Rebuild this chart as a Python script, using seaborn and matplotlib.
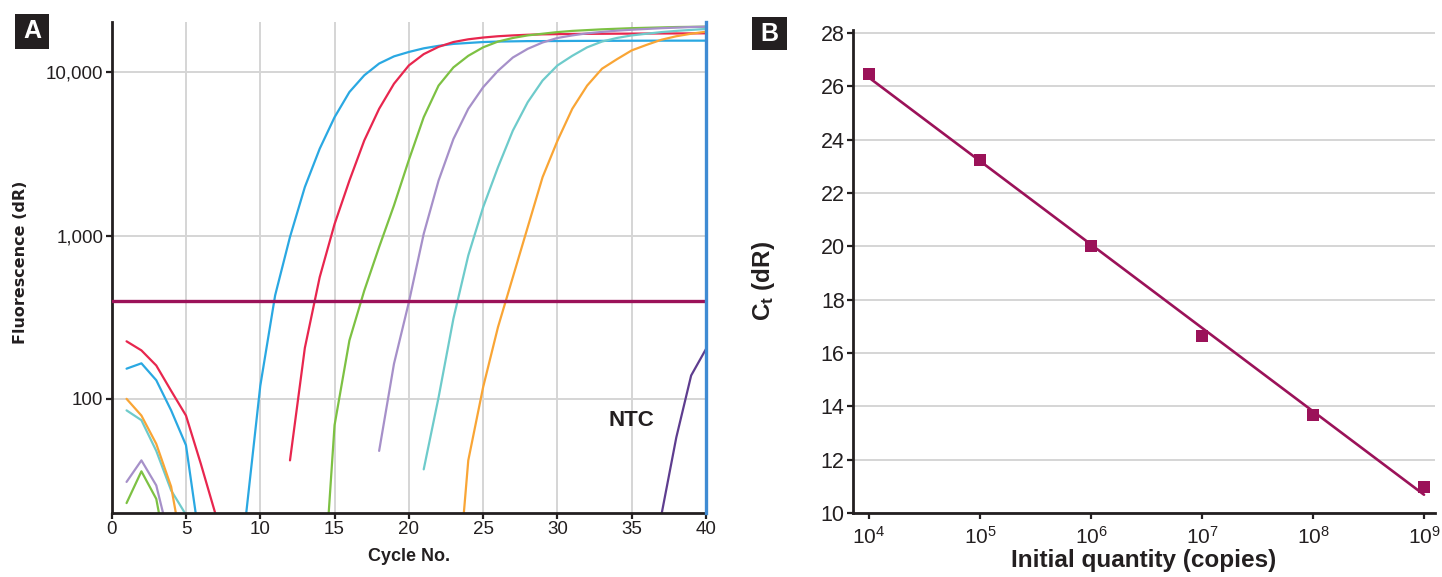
import numpy as np
import pandas as pd
import matplotlib
matplotlib.use("Agg")
import matplotlib.pyplot as plt
import seaborn as sns
from matplotlib.patches import Rectangle
from matplotlib.ticker import FixedLocator, NullLocator, FixedFormatter

nan = np.nan

# ---------------- Panel A data: amplification curves ----------------
cycles = list(range(1, 41))
blue = [153, 165, 130, 85, 52, 12, 5, 6, 18, 120,
        430, 980, 1980, 3400, 5300, 7560, 9570, 11300, 12500, 13300,
        14000, 14500, 14900, 15100, 15300, 15400, 15450, 15500, 15500, 15520,
        15540, 15550, 15560, 15570, 15580, 15590, 15600, 15600, 15600, 15600]
red = [225, 198, 160, 112, 79, 40, 19.5, nan, nan, nan,
       nan, 42, 205, 556, 1175, 2170, 3820, 5970, 8500, 11000,
       12900, 14300, 15300, 15900, 16300, 16600, 16800, 16950, 17050, 17100,
       17150, 17170, 17190, 17210, 17230, 17250, 17260, 17270, 17280, 17300]
green = [23, 36, 24.4, 8, nan, nan, nan, nan, nan, nan,
         nan, nan, nan, 3, 69, 228, 460, 850, 1530, 2900,
         5300, 8280, 10700, 12600, 14200, 15400, 16200, 16800, 17200, 17600,
         17900, 18100, 18300, 18450, 18600, 18700, 18800, 18900, 18950, 19000]
purple = [31, 42, 29.5, 12.6, nan, nan, nan, nan, nan, nan,
          nan, nan, nan, nan, nan, nan, nan, 48, 164, 390,
          1024, 2170, 3900, 5970, 8090, 10200, 12300, 13900, 15200, 16200,
          16800, 17300, 17650, 17950, 18200, 18400, 18600, 18750, 18900, 19000]
teal = [85, 74, 48, 27.5, 19.5, nan, nan, nan, nan, nan,
        nan, nan, nan, nan, nan, nan, nan, nan, nan, nan,
        37, 102, 310, 755, 1490, 2620, 4390, 6550, 8890, 11000,
        12600, 14200, 15400, 16200, 16800, 17200, 17600, 17900, 18150, 18400]
orange = [100, 79, 53, 29, 9, nan, nan, nan, nan, nan,
          nan, nan, nan, nan, nan, nan, nan, nan, nan, nan,
          nan, nan, 3.5, 42, 118, 275, 556, 1125, 2275, 3800,
          5970, 8280, 10500, 12000, 13600, 14700, 15800, 16600, 17200, 17700]
ntc_cycles = [37, 38, 39, 40]
ntc = [19.5, 58, 139, 202]
threshold = 400

a_xticks = [0, 5, 10, 15, 20, 25, 30, 35, 40]
a_yticks = [100, 1000, 10000]
a_yticklabels = ["100", "1,000", "10,000"]

# ---------------- Panel B data: standard curve ----------------
quantity = [1e4, 1e5, 1e6, 1e7, 1e8, 1e9]
ct = [26.47, 23.23, 20.02, 16.65, 13.68, 10.98]
b_yticks = [10, 12, 14, 16, 18, 20, 22, 24, 26, 28]

# ---------------- styling ----------------
sns.set_style("white")
plt.rcParams["font.family"] = ["Liberation Sans", "DejaVu Sans"]
plt.rcParams["mathtext.fontset"] = "custom"
plt.rcParams["mathtext.rm"] = "Liberation Sans"
plt.rcParams["mathtext.bf"] = "Liberation Sans:bold"
plt.rcParams["mathtext.it"] = "Liberation Sans:italic"

INK = "#231F20"
GRID = "#D5D5D5"
MAG = "#9B1259"
palette = {
    "blue": "#2AA8E2",
    "red": "#E8264E",
    "green": "#7DC143",
    "purple": "#A690C9",
    "teal": "#6ECBCB",
    "orange": "#F9A535",
    "ntc": "#5E3D8F",
}

# build long table, splitting each curve into continuous segments
rows = []
series = {"blue": (cycles, blue), "red": (cycles, red), "green": (cycles, green),
          "purple": (cycles, purple), "teal": (cycles, teal),
          "orange": (cycles, orange), "ntc": (ntc_cycles, ntc)}
for name, (cx, vals) in series.items():
    seg = 0
    prev_nan = True
    for c, v in zip(cx, vals):
        if np.isnan(v):
            prev_nan = True
            continue
        if prev_nan:
            seg += 1
            prev_nan = False
        rows.append({"cycle": c, "value": v, "curve": name, "seg": f"{name}{seg}"})
df = pd.DataFrame(rows)

fig = plt.figure(figsize=(14.42, 5.77), dpi=100)
axA = fig.add_axes([0.07746, 0.11092, 0.41214, 0.8510])
axB = fig.add_axes([0.59154, 0.11092, 0.40361, 0.8366])

# ---------------- Panel A ----------------
axA.set_yscale("log")
sns.lineplot(data=df, x="cycle", y="value", hue="curve", units="seg",
             estimator=None, sort=False, palette=palette, legend=False,
             linewidth=1.6, ax=axA, zorder=2)
axA.axhline(threshold, color=MAG, lw=2.4, zorder=3)
axA.set_xlim(0, 40)
axA.set_ylim(20, 20300)
axA.xaxis.set_major_locator(FixedLocator(a_xticks))
axA.yaxis.set_major_locator(FixedLocator(a_yticks))
axA.yaxis.set_major_formatter(FixedFormatter(a_yticklabels))
axA.yaxis.set_minor_locator(NullLocator())
axA.grid(True, which="major", color=GRID, lw=1.4, zorder=0)
axA.set_axisbelow(True)
axA.spines["top"].set_visible(False)
for s in ("left", "bottom"):
    axA.spines[s].set_color(INK)
    axA.spines[s].set_linewidth(2.0)
axA.spines["right"].set_color("#3F8BD3")
axA.spines["right"].set_linewidth(2.4)
axA.spines["right"].set_zorder(5)
axA.tick_params(axis="both", which="major", direction="out", length=4, width=1.6,
                color=INK, labelcolor=INK, labelsize=13.5, pad=2,
                left=True, bottom=True)
axA.set_xlabel("Cycle No.", fontsize=13, fontweight="bold", color=INK)
axA.set_ylabel("Fluorescence (dR)", fontsize=11.5, fontweight="bold", color=INK,
               family="DejaVu Sans")
axA.xaxis.set_label_coords(0.5, -0.071)
axA.yaxis.set_label_coords(-0.140, 0.51)
axA.text(35, 74, "NTC", ha="center", va="center", fontsize=16,
         fontweight="bold", color=INK)

# ---------------- Panel B ----------------
axB.set_xscale("log")
sns.regplot(x=quantity, y=ct, logx=True, ci=None, scatter=False, ax=axB,
            line_kws={"color": MAG, "lw": 1.9, "zorder": 3})
sns.scatterplot(x=quantity, y=ct, marker="s", s=85, color=MAG, linewidth=0,
                ax=axB, zorder=4, legend=False)
axB.set_xlim(10 ** 3.856, 10 ** 9.099)
axB.set_ylim(10, 28.1)
axB.xaxis.set_major_locator(FixedLocator(quantity))
axB.xaxis.set_minor_locator(NullLocator())
axB.yaxis.set_major_locator(FixedLocator(b_yticks))
axB.yaxis.grid(True, color=GRID, lw=1.4, zorder=0)
axB.xaxis.grid(False)
axB.set_axisbelow(True)
for s in ("top", "right"):
    axB.spines[s].set_visible(False)
for s in ("left", "bottom"):
    axB.spines[s].set_color(INK)
    axB.spines[s].set_linewidth(2.0)
axB.tick_params(axis="both", which="major", direction="out", length=4, width=1.6,
                color=INK, labelcolor=INK, labelsize=15.5, pad=2,
                left=True, bottom=True)
axB.tick_params(axis="x", labelsize=15, pad=5)
axB.set_xlabel("Initial quantity (copies)", fontsize=17.5, fontweight="bold",
               color=INK)
axB.set_ylabel(r"$\mathbf{C_t}$ (dR)", fontsize=17.5, fontweight="bold", color=INK)
axB.xaxis.set_label_coords(0.5, -0.074)
axB.yaxis.set_label_coords(-0.131, 0.48)

# ---------------- panel letters ----------------
for (x0, y0, w, h, letter) in [(0.0104, 0.9151, 0.0236, 0.0607, "A"),
                               (0.5215, 0.9133, 0.0243, 0.0572, "B")]:
    fig.add_artist(Rectangle((x0, y0), w, h, transform=fig.transFigure,
                             facecolor=INK, edgecolor="none"))
    fig.text(x0 + w / 2, y0 + h / 2, letter, color="white", fontsize=18,
             fontweight="bold", ha="center", va="center")

fig.savefig("out.png", dpi=100)
